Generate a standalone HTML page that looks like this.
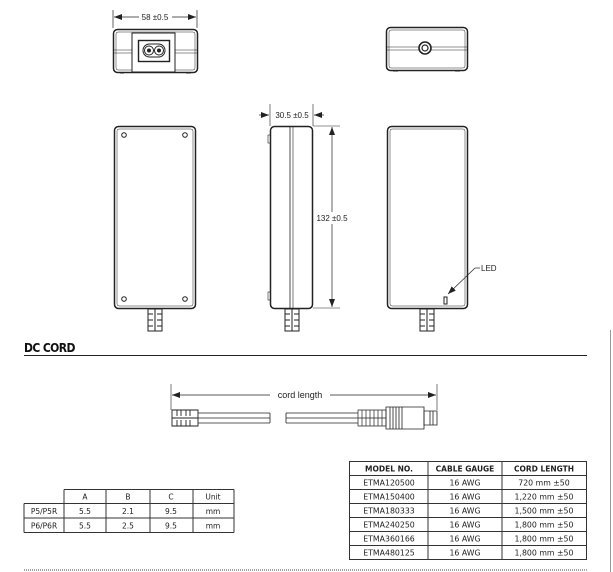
<!DOCTYPE html>
<html><head><meta charset="utf-8"><style>
html,body{margin:0;padding:0;background:#fff;}
svg{display:block;font-family:"Liberation Sans",sans-serif;}
</style></head><body>
<svg width="613" height="572" viewBox="0 0 613 572" xmlns="http://www.w3.org/2000/svg">
<defs>
<marker id="a" markerWidth="8" markerHeight="6" refX="8" refY="3" orient="auto" markerUnits="userSpaceOnUse"><path d="M0,0 L8,3 L0,6z" fill="#222"/></marker>
</defs>
<g fill="none" stroke="#222" stroke-width="1">
<line x1="113" y1="10" x2="113" y2="28" stroke-width=".7"/><line x1="197" y1="10" x2="197" y2="28" stroke-width=".7"/>
<line x1="139" y1="17" x2="114" y2="17" marker-end="url(#a)" stroke-width=".7"/>
<line x1="172" y1="17" x2="196" y2="17" marker-end="url(#a)" stroke-width=".7"/>
<rect x="113.5" y="29.5" width="84" height="43" rx="4" stroke-width="1.5"/>
<rect x="116" y="32" width="79" height="38" rx="2" stroke-width=".5"/>
<line x1="114" y1="50" x2="197" y2="50" stroke-width=".6"/><line x1="114" y1="53" x2="197" y2="53" stroke-width=".6"/>
<rect x="132" y="33" width="43" height="39" fill="#fff" stroke-width="1"/>
<rect x="138.5" y="40.5" width="31" height="21" stroke-width="1.4"/>
<rect x="143" y="44" width="22" height="13" rx="6.5"/>
<circle cx="149" cy="50.5" r="4.5"/><circle cx="159" cy="50.5" r="4.5"/>
<circle cx="149" cy="50.5" r="1.5" fill="#222"/><circle cx="159" cy="50.5" r="1.5" fill="#222"/>
<line x1="120" y1="73" x2="124" y2="73"/><line x1="186" y1="73" x2="191" y2="73"/>
<rect x="386.5" y="27.5" width="81" height="43" rx="4" stroke-width="1.5"/>
<rect x="389" y="30" width="76" height="38" rx="2" stroke-width=".5"/>
<line x1="387" y1="47" x2="467" y2="47" stroke-width=".6"/><line x1="387" y1="50" x2="467" y2="50" stroke-width=".6"/>
<circle cx="425" cy="48" r="6" fill="#fff" stroke-width="1.6"/><circle cx="425" cy="48" r="3" stroke-width="1.2"/>
<line x1="393" y1="71" x2="398" y2="71"/><line x1="455" y1="71" x2="460" y2="71"/>
<rect x="114.5" y="126.5" width="81" height="182" rx="4" stroke-width="1.5"/>
<rect x="117" y="129" width="76" height="177" rx="2" stroke-width=".5"/>
<g stroke-width="1"><circle cx="124" cy="135" r="2.3"/><circle cx="185" cy="135" r="2.3"/><circle cx="124" cy="299" r="2.3"/><circle cx="185" cy="299" r="2.3"/></g>
<line x1="270" y1="104" x2="270" y2="126" stroke-width=".6"/><line x1="313" y1="104" x2="313" y2="126" stroke-width=".6"/>
<line x1="259" y1="115" x2="269" y2="115" marker-end="url(#a)" stroke-width=".7"/>
<line x1="324" y1="115" x2="314" y2="115" marker-end="url(#a)" stroke-width=".7"/>
<rect x="270.5" y="126.5" width="42" height="182" rx="4" stroke-width="1.5"/>
<line x1="290" y1="127" x2="290" y2="308" stroke-width=".8"/><line x1="293" y1="127" x2="293" y2="308" stroke-width=".6"/>
<rect x="268" y="135" width="2.5" height="8" stroke-width=".6"/><rect x="268" y="292" width="2.5" height="8" stroke-width=".6"/>
<line x1="313" y1="126" x2="340" y2="126" stroke-width=".6"/><line x1="313" y1="308" x2="340" y2="308" stroke-width=".6"/>
<line x1="332" y1="212" x2="332" y2="127" marker-end="url(#a)" stroke-width=".7"/>
<line x1="332" y1="224" x2="332" y2="307" marker-end="url(#a)" stroke-width=".7"/>
<rect x="387.5" y="126.5" width="80" height="182" rx="4" stroke-width="1.5"/>
<rect x="390" y="129" width="75" height="177" rx="2" stroke-width=".5"/>
<rect x="444" y="297" width="3" height="7" stroke-width="1"/>
<line x1="480" y1="268" x2="475" y2="268" stroke-width=".7"/>
<line x1="475" y1="268" x2="448" y2="294" marker-end="url(#a)" stroke-width=".7"/>
<g stroke-width="1">
<path d="M148,309 h14 v22 h-14z M148,314 h5 M157,314 h5 M148,320 h5 M157,320 h5 M148,326 h5 M157,326 h5 M155,309 v22"/>
<path d="M285,309 h14 v22 h-14z M285,314 h5 M294,314 h5 M285,320 h5 M294,320 h5 M285,326 h5 M294,326 h5 M292,309 v22"/>
<path d="M420,309 h14 v22 h-14z M420,314 h5 M429,314 h5 M420,320 h5 M429,320 h5 M420,326 h5 M429,326 h5 M427,309 v22"/>
</g>
<line x1="171" y1="384" x2="171" y2="410" stroke-width=".6"/><line x1="437" y1="384" x2="437" y2="410" stroke-width=".6"/>
<line x1="270" y1="395" x2="172" y2="395" marker-end="url(#a)" stroke-width=".7"/>
<line x1="330" y1="395" x2="436" y2="395" marker-end="url(#a)" stroke-width=".7"/>
<path d="M172,410 h26 v16 h-26z M177,410 v6 M181,410 v6 M186,410 v6 M190,410 v6 M177,420 v6 M181,420 v6 M186,420 v6 M190,420 v6 M172,418 h26" stroke-width=".9"/>
<path d="M198,413 H270 M198,418 H270 M198,423 H270 M270,413 V423" stroke-width=".8"/>
<path d="M286,413 H358 M286,418 H358 M286,423 H358 M286,413 V423" stroke-width=".8"/>
<path d="M358,410 h28 v16 h-28z M362,410 v16 M366,410 v16 M370,410 v16 M374,410 v16 M378,410 v16 M382,410 v16 M358,418 h28" stroke-width=".7"/>
<path d="M386,407 h38 v22 h-38z M390,407 v22 M393,407 v22 M396,407 v22 M399,407 v22 M402,407 v22" stroke-width=".8"/>
<path d="M424,411 h13 v14 h-13z M430,411 v14 M433,411 v14" stroke-width=".8"/>
</g>
<g font-size="8" fill="#222">
<text x="155" y="20" text-anchor="middle">58 ±0.5</text>
<text x="292" y="118" text-anchor="middle">30.5 ±0.5</text>
<text x="332" y="221" text-anchor="middle" fill="#222" stroke="#fff" stroke-width="3" paint-order="stroke">132 ±0.5</text>
<text x="481" y="271">LED</text>
<text x="300" y="398" text-anchor="middle" font-size="9">cord length</text>
</g>
<text x="24" y="352" font-size="12" font-weight="bold" fill="#111" font-family="DejaVu Sans Condensed,DejaVu Sans,sans-serif" letter-spacing="-0.6">DC CORD</text>
<line x1="24" y1="355.5" x2="587" y2="355.5" stroke="#222" stroke-width="1"/>
<line x1="610.5" y1="330" x2="610.5" y2="572" stroke="#999" stroke-width="1"/>
<g fill="none" stroke="#333" stroke-width="1">
<path d="M64,489.5 H234 M24,503.5 H234 M24,518 H234 M24,532.5 H234 M24,503.5 V532.5 M64,489.5 V532.5 M106,489.5 V532.5 M150,489.5 V532.5 M193,489.5 V532.5 M234,489.5 V532.5"/>
</g>
<g font-size="7.5" fill="#222" text-anchor="middle" font-family="DejaVu Sans,sans-serif">
<text x="85" y="499.5">A</text><text x="128" y="499.5">B</text><text x="171" y="499.5">C</text><text x="213" y="499.5">Unit</text>
<text x="44" y="514">P5/P5R</text><text x="85" y="514">5.5</text><text x="128" y="514">2.1</text><text x="171" y="514">9.5</text><text x="213" y="514">mm</text>
<text x="44" y="528.5">P6/P6R</text><text x="85" y="528.5">5.5</text><text x="128" y="528.5">2.5</text><text x="171" y="528.5">9.5</text><text x="213" y="528.5">mm</text>
</g>
<g fill="none" stroke="#333" stroke-width="1">
<rect x="349.5" y="461.5" width="237" height="98"/>
<path d="M349.5,475.5 H586.5 M349.5,489.5 H586.5 M349.5,503.5 H586.5 M349.5,517.5 H586.5 M349.5,531.5 H586.5 M349.5,545.5 H586.5 M428,461.5 V559.5 M502,461.5 V559.5"/>
</g>
<g font-size="7.8" fill="#222" text-anchor="middle" font-family="DejaVu Sans,sans-serif">
<g font-weight="bold" font-size="7.5"><text x="389" y="471.5">MODEL NO.</text><text x="465" y="471.5">CABLE GAUGE</text><text x="544" y="471.5">CORD LENGTH</text></g>
<text x="389" y="485.5">ETMA120500</text><text x="465" y="485.5">16 AWG</text><text x="544" y="485.5">720 mm ±50</text>
<text x="389" y="499.5">ETMA150400</text><text x="465" y="499.5">16 AWG</text><text x="544" y="499.5">1,220 mm ±50</text>
<text x="389" y="513.5">ETMA180333</text><text x="465" y="513.5">16 AWG</text><text x="544" y="513.5">1,500 mm ±50</text>
<text x="389" y="527.5">ETMA240250</text><text x="465" y="527.5">16 AWG</text><text x="544" y="527.5">1,800 mm ±50</text>
<text x="389" y="541.5">ETMA360166</text><text x="465" y="541.5">16 AWG</text><text x="544" y="541.5">1,800 mm ±50</text>
<text x="389" y="555.5">ETMA480125</text><text x="465" y="555.5">16 AWG</text><text x="544" y="555.5">1,800 mm ±50</text>
</g>
<line x1="24" y1="570" x2="587" y2="570" stroke="#888" stroke-width="1.5" stroke-dasharray="1,1"/>
</svg>
</body></html>
